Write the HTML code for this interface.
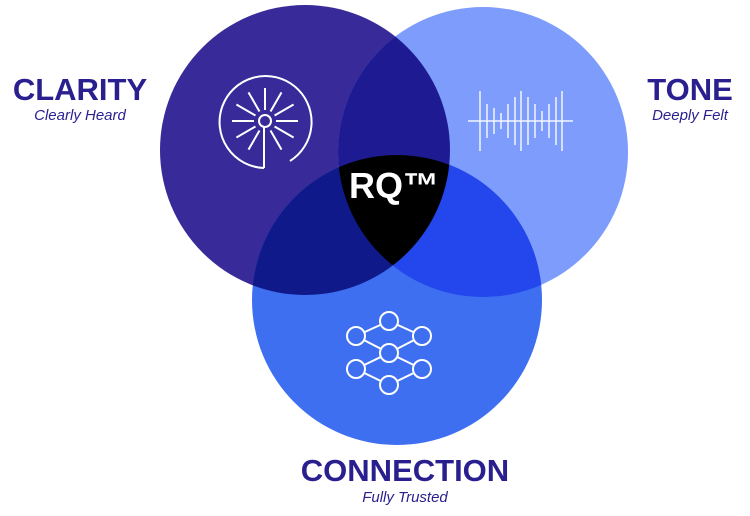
<!DOCTYPE html>
<html><head><style>body{margin:0;background:#fff}svg{display:block}</style></head><body>
<svg width="750" height="516" xmlns="http://www.w3.org/2000/svg" font-family="Liberation Sans, sans-serif">
<defs>
<clipPath id="cA"><circle cx="305" cy="150" r="145"/></clipPath>
<clipPath id="cB"><circle cx="483" cy="152" r="145"/></clipPath>
<clipPath id="cC"><circle cx="397" cy="300" r="145"/></clipPath>
</defs>
<circle cx="305" cy="150" r="145" fill="#392a99"/>
<circle cx="483" cy="152" r="145" fill="#7e9cfb"/>
<circle cx="397" cy="300" r="145" fill="#3d6ff0"/>
<circle cx="483" cy="152" r="145" fill="#1e1a92" clip-path="url(#cA)"/>
<circle cx="397" cy="300" r="145" fill="#0f198a" clip-path="url(#cA)"/>
<circle cx="397" cy="300" r="145" fill="#2347ec" clip-path="url(#cB)"/>
<g clip-path="url(#cA)"><circle cx="397" cy="300" r="145" fill="#000" clip-path="url(#cB)"/></g>
<!-- clarity icon -->
<g stroke="#fff" stroke-width="2" fill="none">
<path d="M264 168 A46 46 0 1 1 290 161"/>
<line x1="264" y1="127" x2="264" y2="168"/>
<circle cx="265" cy="121" r="6"/>
<g transform="translate(265,121)">
<line x1="0" y1="-11" x2="0" y2="-33"/>
<line x1="0" y1="-11" x2="0" y2="-33" transform="rotate(30)"/>
<line x1="0" y1="-11" x2="0" y2="-33" transform="rotate(60)"/>
<line x1="0" y1="-11" x2="0" y2="-33" transform="rotate(90)"/>
<line x1="0" y1="-11" x2="0" y2="-33" transform="rotate(120)"/>
<line x1="0" y1="-11" x2="0" y2="-33" transform="rotate(150)"/>
<line x1="0" y1="-11" x2="0" y2="-33" transform="rotate(210)"/>
<line x1="0" y1="-11" x2="0" y2="-33" transform="rotate(240)"/>
<line x1="0" y1="-11" x2="0" y2="-33" transform="rotate(270)"/>
<line x1="0" y1="-11" x2="0" y2="-33" transform="rotate(300)"/>
<line x1="0" y1="-11" x2="0" y2="-33" transform="rotate(330)"/>
</g>
</g>
<!-- tone icon -->
<g stroke="#fff" stroke-width="1.5" opacity="0.9">
<line x1="468" y1="121" x2="573" y2="121"/>
<line x1="480" y1="91" x2="480" y2="151"/>
<line x1="487" y1="104" x2="487" y2="138"/>
<line x1="494" y1="108" x2="494" y2="134"/>
<line x1="501" y1="113" x2="501" y2="129"/>
<line x1="508" y1="104" x2="508" y2="138"/>
<line x1="515" y1="97" x2="515" y2="145"/>
<line x1="521" y1="91" x2="521" y2="151"/>
<line x1="528" y1="97" x2="528" y2="145"/>
<line x1="535" y1="104" x2="535" y2="138"/>
<line x1="542" y1="111" x2="542" y2="131"/>
<line x1="549" y1="104" x2="549" y2="138"/>
<line x1="556" y1="97" x2="556" y2="145"/>
<line x1="562" y1="91" x2="562" y2="151"/>
</g>
<!-- connection icon -->
<g stroke="#fff" stroke-width="2" fill="none">
<line x1="389" y1="321" x2="356" y2="336"/><line x1="389" y1="321" x2="422" y2="336"/>
<line x1="356" y1="336" x2="389" y2="353"/><line x1="422" y1="336" x2="389" y2="353"/>
<line x1="389" y1="353" x2="356" y2="369"/><line x1="389" y1="353" x2="422" y2="369"/>
<line x1="356" y1="369" x2="389" y2="385"/><line x1="422" y1="369" x2="389" y2="385"/>
<g fill="#3d6ff0">
<circle cx="389" cy="321" r="9"/><circle cx="356" cy="336" r="9"/><circle cx="422" cy="336" r="9"/>
<circle cx="389" cy="353" r="9"/><circle cx="356" cy="369" r="9"/><circle cx="422" cy="369" r="9"/>
<circle cx="389" cy="385" r="9"/>
</g>
</g>
<text x="394" y="198" fill="#fff" font-size="36" font-weight="bold" text-anchor="middle">RQ™</text>
<g fill="#2a1f8f" text-anchor="middle">
<text x="80" y="100" font-size="31" font-weight="bold">CLARITY</text>
<text x="80" y="120" font-size="15" font-style="italic">Clearly Heard</text>
<text x="690" y="100" font-size="31" font-weight="bold">TONE</text>
<text x="690" y="120" font-size="15" font-style="italic">Deeply Felt</text>
<text x="405" y="481" font-size="31" font-weight="bold">CONNECTION</text>
<text x="405" y="502" font-size="15" font-style="italic">Fully Trusted</text>
</g>
</svg>
</body></html>
